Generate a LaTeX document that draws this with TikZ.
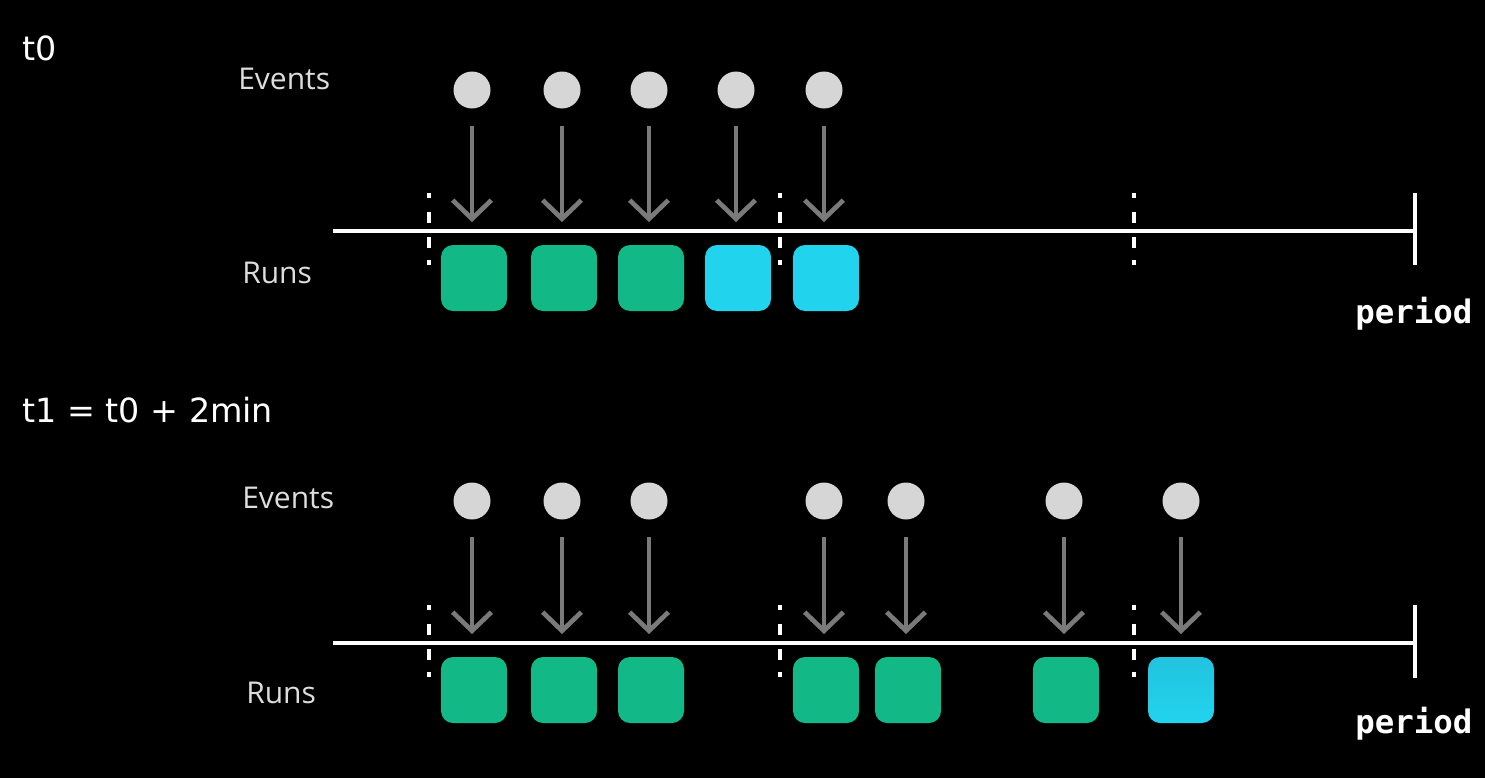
\documentclass[tikz,border=0pt]{standalone}
\usepackage{fontspec}
\setmainfont{Open Sans}
\newfontfamily\monob{DejaVu Sans Mono}
\newfontfamily\titlefont{DejaVu Sans}
\usetikzlibrary{arrows.meta}
\definecolor{runGreen}{HTML}{12B886}
\definecolor{runCyan}{HTML}{22D3EE}
\definecolor{runCyanDark}{HTML}{22C3DE}
\definecolor{evGray}{HTML}{D6D6D6}
\definecolor{arrGray}{HTML}{7A7A7A}
\definecolor{lblGray}{HTML}{DDDDDD}
\tikzset{
  event/.style={circle,fill=evGray,draw=none,minimum size=27.75pt,inner sep=0pt},
  runbox/.style={rectangle,rounded corners=9pt,draw=none,minimum size=49.5pt,inner sep=0pt},
  green/.style={runbox,fill=runGreen},
  cyan/.style={runbox,fill=runCyan},
  evarrow/.style={draw=arrGray,line width=3.5pt,shorten <=12.75pt,shorten >=17pt,
    -{Straight Barb[length=14pt,width=29pt,line width=3.5pt]}},
  timeline/.style={draw=white,line width=3pt},
  sep/.style={draw=white,line width=3.2pt,
    dash pattern=on 3.75pt off 10.5pt on 8.25pt off 10.5pt on 8.25pt off 9pt on 3.75pt off 100pt},
  lbl/.style={text=lblGray,font=\fontsize{22.5}{26}\selectfont,inner sep=0pt,anchor=base west},
  title/.style={text=white,font=\titlefont\fontsize{25}{30}\selectfont,inner sep=0pt,anchor=base west},
  per/.style={text=white,font=\monob\bfseries\fontsize{24.3}{28}\selectfont,inner sep=0pt,anchor=base west}
}
\begin{document}
\begin{tikzpicture}[x=0.75pt,y=-0.75pt]
\fill[black] (0,0) rectangle (1485,778);
\useasboundingbox (0,0) rectangle (1485,778);

% ---------- t0 ----------
\node[title] (tA) at (22,60) {t0};
\node[lbl] (evA) at (238,89) {Events};
\node[lbl] (ruA) at (242,283) {Runs};
\node[per] (pA) at (1355,323) {period};

\coordinate (lA0) at (333,231);
\coordinate (lA1) at (1415,231);
\draw[timeline] (lA0) -- (lA1);
\coordinate (tkA0) at (1415,193);
\coordinate (tkA1) at (1415,265);
\draw[timeline] (tkA0) -- (tkA1);

\foreach \x [count=\i] in {429,780,1134}{
  \coordinate (sA\i a) at (\x,193);
  \coordinate (sA\i b) at (\x,265);
  \draw[sep] (sA\i a) -- (sA\i b);
}

\foreach \x/\c [count=\i] in {472/green,562/green,649/green,736/cyan,824/cyan}{
  \node[event] (eA\i) at (\x,90) {};
  \node[\c] (rA\i) at (\x+2,278) {};
}
\foreach \i in {1,...,5}{
  \draw[evarrow] (eA\i) -- (eA\i |- rA\i.north);
}

% ---------- t1 ----------
\node[title] (tB) at (22,422) {t1 = t0 + 2min};
\node[lbl] (evB) at (242,508) {Events};
\node[lbl] (ruB) at (246,703) {Runs};
\node[per] (pB) at (1355,733) {period};

\coordinate (lB0) at (333,643);
\coordinate (lB1) at (1415,643);
\draw[timeline] (lB0) -- (lB1);
\coordinate (tkB0) at (1415,605);
\coordinate (tkB1) at (1415,678);
\draw[timeline] (tkB0) -- (tkB1);

\foreach \x [count=\i] in {429,780,1134}{
  \coordinate (sB\i a) at (\x,605);
  \coordinate (sB\i b) at (\x,677);
  \draw[sep] (sB\i a) -- (sB\i b);
}

\foreach \x/\c [count=\i] in {472/green,562/green,649/green,824/green,906/green,1064/green}{
  \node[event] (eB\i) at (\x,501) {};
  \node[\c] (rB\i) at (\x+2,690) {};
}
\node[event] (eB7) at (1181,501) {};
\node[runbox,top color=runCyanDark,bottom color=runCyan] (rB7) at (1181,690) {};
\foreach \i in {1,...,7}{
  \draw[evarrow] (eB\i) -- (eB\i |- rB\i.north);
}
\end{tikzpicture}
\end{document}
